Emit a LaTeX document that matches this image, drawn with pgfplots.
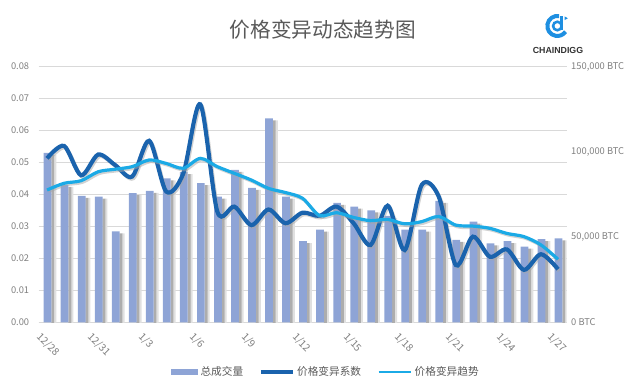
\documentclass[border=0pt]{standalone}
\usepackage{pgfplots}
\usepackage{pgfplotstable}
\pgfplotsset{compat=1.18}
\usepackage{fontspec}
\setmainfont{Noto Sans CJK SC}
\setsansfont{Liberation Sans}
\definecolor{barc}{HTML}{8EA4D6}
\definecolor{darkl}{HTML}{1A63AD}
\definecolor{lightl}{HTML}{1BAAE6}
\definecolor{gridc}{HTML}{D9D9D9}
\definecolor{tickc}{HTML}{7F7F7F}
\definecolor{titlec}{HTML}{595959}
\definecolor{logoc}{HTML}{1E8FE1}

\pgfplotstableread{
x vol cv trend
0 99400 0.0513 0.0414
1 80600 0.0552 0.0435
2 74100 0.0460 0.0443
3 73700 0.0525 0.0471
4 53300 0.0492 0.0479
5 75800 0.0456 0.0487
6 77100 0.0568 0.0508
7 84400 0.0409 0.0497
8 88100 0.0466 0.0482
9 81600 0.0682 0.0513
10 73700 0.0346 0.0487
11 89400 0.0362 0.0466
12 78800 0.0304 0.0445
13 119600 0.0353 0.0419
14 73700 0.0310 0.0406
15 47600 0.0343 0.0388
16 54400 0.0333 0.0334
17 70100 0.0362 0.0343
18 67900 0.0310 0.0328
19 65600 0.0242 0.0318
20 62400 0.0365 0.0322
21 54400 0.0226 0.0308
22 54400 0.0430 0.0315
23 71300 0.0393 0.0331
24 48400 0.0179 0.0304
25 59100 0.0268 0.0301
26 46300 0.0205 0.0294
27 47600 0.0228 0.0278
28 44400 0.0164 0.0268
29 48800 0.0213 0.0242
30 49300 0.0166 0.0197
}\data

\pgfplotsset{base/.style={scale only axis, width=396pt, height=191.7pt,
  xmin=-0.5, xmax=30.5, at={(28.9pt,52.3pt)}, anchor=south west}}

\begin{document}
\begin{tikzpicture}
\path[use as bounding box] (0,0) rectangle (480pt,294pt);

% title
\node[font=\fontsize{15.5}{16}\selectfont, text=titlec] at (242pt,271.5pt) {价格变异动态趋势图};

% logo
\begin{scope}[shift={(418pt,274.5pt)}]
  \draw[logoc, line width=3pt] (1.3pt,7.4pt) arc[start angle=80, end angle=325, radius=7.5pt];
  \draw[logoc, line width=1.9pt] (0,0) circle (3.2pt);
  \draw[logoc, line width=1.9pt] (3.2pt,-3.3pt) -- (3.2pt,7.5pt);
  \fill[logoc] (5.4pt,7.2pt) -- (7.9pt,5.8pt) -- (5.4pt,4.4pt) -- cycle;
\end{scope}
\node[font=\sffamily\bfseries\fontsize{6.6}{7}\selectfont, text=black!80] at (418.5pt,256pt) {CHAINDIGG};

% axis A: grid, left ticks, x labels
\begin{axis}[base, ymin=0, ymax=0.08,
  ytick={0,0.01,0.02,0.03,0.04,0.05,0.06,0.07,0.08},
  ymajorgrids, grid style={gridc, line width=0.8pt},
  axis x line*=bottom, axis y line*=left,
  y axis line style={draw=none}, x axis line style={gridc, line width=0.8pt},
  major tick length=0pt,
  xtick={0,3,6,9,12,15,18,21,24,27,30},
  xticklabels={12/28,12/31,1/3,1/6,1/9,1/12,1/15,1/18,1/21,1/24,1/27},
  xticklabel style={rotate=-45, anchor=north west, font=\fontsize{7.6}{8}\selectfont, text=tickc, xshift=-1pt, yshift=-4pt},
  yticklabel style={font=\fontsize{7}{8}\selectfont, text=tickc, xshift=-3.5pt,
    /pgf/number format/.cd, fixed, fixed zerofill, precision=2, assume math mode=true},
  scaled y ticks=false]
\end{axis}

% axis B: bars, right axis
\begin{axis}[base, ymin=0, ymax=150000,
  axis y line*=right, axis x line=none, xtick=\empty,
  y axis line style={draw=none}, major tick length=0pt,
  ytick={0,50000,100000,150000},
  yticklabels={0 BTC,{50,000 BTC},{100,000 BTC},{150,000 BTC}},
  yticklabel style={font=\fontsize{7}{8}\selectfont, text=tickc},
  scaled y ticks=false]
\addplot[ybar, bar width=1.8pt, bar shift=6.1pt, draw=none, fill=black!12, yshift=-1.5pt] table[x=x,y=vol]{\data};
\addplot[ybar, bar width=2.2pt, bar shift=4.3pt, draw=none, fill=black!32, yshift=-1.5pt] table[x=x,y=vol]{\data};
\addplot[ybar, bar width=5.8pt, bar shift=0.4pt, fill=barc, draw=none] table[x=x,y=vol]{\data};
\end{axis}

% axis C: lines and legend
\begin{axis}[base, ymin=0, ymax=0.08, hide axis, xtick=\empty, ytick=\empty,
  legend style={at={(0.5445,-0.1946)}, anchor=center, draw=none, fill=none,
    legend columns=3, font=\fontsize{8}{9}\selectfont, text=titlec,
    /tikz/every even column/.append style={column sep=10pt},
    /tikz/every odd column/.append style={column sep=0pt}}]
\addlegendimage{legend image code/.code={\fill[barc] (0pt,-1.9pt) rectangle (20pt,1.9pt);}}
\addlegendentry{总成交量}
\addlegendimage{legend image code/.code={\draw[darkl, line width=2.4pt] (0pt,0pt) -- (24pt,0pt);}}
\addlegendentry{价格变异系数}
\addlegendimage{legend image code/.code={\draw[lightl, line width=2.2pt] (0pt,0pt) -- (24pt,0pt);}}
\addlegendentry{价格变异趋势}
\addplot[forget plot, smooth, tension=0.5, line width=2.8pt, black!35, opacity=0.5, xshift=1pt, yshift=-1.3pt] table[x=x,y=cv]{\data};
\addplot[forget plot, smooth, tension=0.5, line width=3.1pt, darkl] table[x=x,y=cv]{\data};
\addplot[forget plot, smooth, tension=0.5, line width=2.2pt, black!35, opacity=0.5, xshift=1pt, yshift=-1.3pt] table[x=x,y=trend]{\data};
\addplot[forget plot, smooth, tension=0.5, line width=2.4pt, lightl] table[x=x,y=trend]{\data};
\end{axis}
\end{tikzpicture}
\end{document}
